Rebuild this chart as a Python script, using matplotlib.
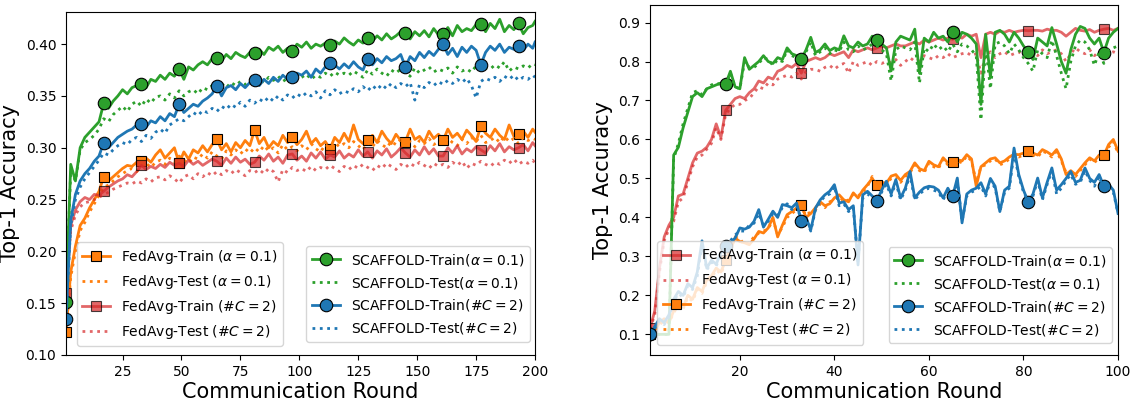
import numpy as np
import matplotlib
matplotlib.use("Agg")
import matplotlib.pyplot as plt

# ---------------- left panel (200 rounds, sampled every 2nd round) ----------------
rounds_left = list(range(1, 200, 2)) + [200]

fedavg_train_alpha_l = [
    0.122, 0.180, 0.205, 0.225, 0.232, 0.242, 0.250, 0.258, 0.272, 0.268,
    0.272, 0.276, 0.280, 0.283, 0.282, 0.286, 0.287, 0.290, 0.286, 0.293,
    0.298, 0.290, 0.295, 0.300, 0.285, 0.296, 0.289, 0.298, 0.295, 0.302,
    0.296, 0.303, 0.308, 0.298, 0.304, 0.296, 0.305, 0.300, 0.307, 0.302,
    0.317, 0.304, 0.310, 0.300, 0.306, 0.302, 0.312, 0.305, 0.310, 0.303,
    0.308, 0.316, 0.304, 0.309, 0.302, 0.306, 0.299, 0.310, 0.305, 0.314,
    0.306, 0.322, 0.308, 0.304, 0.307, 0.312, 0.305, 0.316, 0.309, 0.304,
    0.313, 0.307, 0.306, 0.318, 0.308, 0.311, 0.305, 0.316, 0.309, 0.313,
    0.307, 0.318, 0.310, 0.314, 0.308, 0.317, 0.312, 0.306, 0.321, 0.314,
    0.310, 0.318, 0.312, 0.308, 0.322, 0.311, 0.313, 0.316, 0.310, 0.318,
    0.315]
fedavg_test_alpha_l = [
    0.122, 0.175, 0.200, 0.220, 0.228, 0.238, 0.246, 0.254, 0.262, 0.264,
    0.268, 0.272, 0.275, 0.278, 0.280, 0.277, 0.282, 0.285, 0.281, 0.286,
    0.288, 0.284, 0.290, 0.286, 0.292, 0.288, 0.285, 0.291, 0.289, 0.294,
    0.290, 0.296, 0.292, 0.289, 0.297, 0.293, 0.298, 0.294, 0.299, 0.295,
    0.300, 0.296, 0.302, 0.297, 0.300, 0.295, 0.303, 0.298, 0.301, 0.297,
    0.302, 0.298, 0.304, 0.299, 0.296, 0.303, 0.300, 0.305, 0.301, 0.304,
    0.300, 0.306, 0.302, 0.298, 0.305, 0.301, 0.307, 0.303, 0.300, 0.306,
    0.303, 0.308, 0.302, 0.306, 0.301, 0.307, 0.304, 0.309, 0.303, 0.306,
    0.304, 0.309, 0.305, 0.302, 0.308, 0.304, 0.310, 0.306, 0.312, 0.305,
    0.307, 0.310, 0.305, 0.311, 0.306, 0.309, 0.304, 0.310, 0.307, 0.309,
    0.308]
fedavg_train_c2_l = [
    0.160, 0.225, 0.240, 0.248, 0.252, 0.250, 0.255, 0.254, 0.258, 0.262,
    0.265, 0.268, 0.270, 0.274, 0.272, 0.277, 0.283, 0.279, 0.282, 0.280,
    0.284, 0.281, 0.286, 0.283, 0.285, 0.282, 0.288, 0.284, 0.287, 0.283,
    0.286, 0.289, 0.287, 0.283, 0.290, 0.285, 0.291, 0.286, 0.289, 0.284,
    0.286, 0.292, 0.288, 0.294, 0.287, 0.291, 0.285, 0.293, 0.294, 0.288,
    0.292, 0.287, 0.295, 0.290, 0.296, 0.289, 0.293, 0.291, 0.297, 0.290,
    0.294, 0.291, 0.298, 0.292, 0.296, 0.290, 0.297, 0.293, 0.299, 0.291,
    0.295, 0.300, 0.295, 0.291, 0.298, 0.293, 0.301, 0.294, 0.299, 0.292,
    0.292, 0.300, 0.295, 0.302, 0.294, 0.299, 0.296, 0.301, 0.298, 0.295,
    0.302, 0.297, 0.304, 0.296, 0.301, 0.298, 0.300, 0.303, 0.297, 0.305,
    0.302]
fedavg_test_c2_l = [
    0.160, 0.220, 0.235, 0.243, 0.247, 0.248, 0.250, 0.252, 0.255, 0.257,
    0.260, 0.262, 0.264, 0.266, 0.265, 0.268, 0.266, 0.270, 0.267, 0.271,
    0.272, 0.269, 0.273, 0.270, 0.266, 0.272, 0.274, 0.270, 0.275, 0.272,
    0.276, 0.273, 0.277, 0.274, 0.278, 0.275, 0.279, 0.276, 0.273, 0.278,
    0.276, 0.279, 0.275, 0.280, 0.277, 0.267, 0.279, 0.276, 0.281, 0.278,
    0.280, 0.277, 0.282, 0.278, 0.281, 0.279, 0.283, 0.280, 0.277, 0.282,
    0.279, 0.283, 0.280, 0.284, 0.281, 0.278, 0.283, 0.280, 0.285, 0.282,
    0.279, 0.284, 0.281, 0.285, 0.282, 0.286, 0.283, 0.280, 0.285, 0.282,
    0.284, 0.281, 0.286, 0.283, 0.287, 0.280, 0.285, 0.283, 0.287, 0.284,
    0.282, 0.286, 0.284, 0.288, 0.285, 0.289, 0.284, 0.287, 0.285, 0.288,
    0.285]
scaffold_train_alpha_l = [
    0.151, 0.284, 0.268, 0.300, 0.310, 0.315, 0.320, 0.325, 0.343, 0.338,
    0.345, 0.350, 0.356, 0.352, 0.358, 0.360, 0.362, 0.358, 0.366, 0.364,
    0.370, 0.366, 0.372, 0.369, 0.376, 0.366, 0.378, 0.375, 0.380, 0.383,
    0.380, 0.386, 0.387, 0.384, 0.390, 0.386, 0.392, 0.389, 0.387, 0.392,
    0.391, 0.395, 0.390, 0.397, 0.394, 0.398, 0.392, 0.396, 0.393, 0.400,
    0.397, 0.402, 0.396, 0.400, 0.398, 0.401, 0.399, 0.403, 0.400, 0.406,
    0.402, 0.399, 0.404, 0.401, 0.406, 0.403, 0.408, 0.404, 0.410, 0.405,
    0.408, 0.412, 0.411, 0.405, 0.412, 0.408, 0.413, 0.407, 0.415, 0.409,
    0.410, 0.416, 0.408, 0.418, 0.412, 0.415, 0.413, 0.419, 0.419, 0.412,
    0.420, 0.415, 0.424, 0.412, 0.418, 0.414, 0.420, 0.410, 0.416, 0.418,
    0.422]
scaffold_test_alpha_l = [
    0.151, 0.278, 0.268, 0.298, 0.305, 0.308, 0.312, 0.318, 0.328, 0.325,
    0.332, 0.336, 0.340, 0.335, 0.342, 0.345, 0.340, 0.347, 0.343, 0.349,
    0.350, 0.346, 0.352, 0.348, 0.355, 0.350, 0.354, 0.356, 0.352, 0.358,
    0.356, 0.360, 0.357, 0.362, 0.358, 0.363, 0.360, 0.364, 0.361, 0.365,
    0.362, 0.366, 0.363, 0.368, 0.365, 0.369, 0.364, 0.367, 0.370, 0.366,
    0.368, 0.371, 0.366, 0.370, 0.368, 0.372, 0.369, 0.373, 0.370, 0.372,
    0.370, 0.374, 0.371, 0.368, 0.375, 0.371, 0.376, 0.372, 0.369, 0.375,
    0.372, 0.376, 0.373, 0.369, 0.377, 0.372, 0.375, 0.378, 0.373, 0.376,
    0.374, 0.377, 0.372, 0.378, 0.374, 0.376, 0.373, 0.379, 0.375, 0.377,
    0.376, 0.380, 0.377, 0.383, 0.374, 0.378, 0.376, 0.379, 0.377, 0.381,
    0.380]
scaffold_train_c2_l = [
    0.135, 0.230, 0.255, 0.268, 0.275, 0.280, 0.287, 0.292, 0.305, 0.300,
    0.305, 0.310, 0.313, 0.316, 0.318, 0.322, 0.323, 0.320, 0.326, 0.324,
    0.330, 0.326, 0.333, 0.330, 0.342, 0.334, 0.338, 0.342, 0.340, 0.345,
    0.348, 0.352, 0.360, 0.350, 0.358, 0.360, 0.356, 0.362, 0.358, 0.363,
    0.365, 0.360, 0.366, 0.362, 0.368, 0.364, 0.370, 0.366, 0.368, 0.372,
    0.370, 0.374, 0.368, 0.376, 0.372, 0.378, 0.382, 0.380, 0.376, 0.381,
    0.377, 0.383, 0.378, 0.375, 0.386, 0.380, 0.386, 0.382, 0.388, 0.384,
    0.386, 0.390, 0.378, 0.388, 0.384, 0.392, 0.387, 0.393, 0.389, 0.395,
    0.400, 0.390, 0.396, 0.388, 0.397, 0.392, 0.398, 0.394, 0.380, 0.392,
    0.398, 0.394, 0.400, 0.392, 0.397, 0.395, 0.398, 0.394, 0.400, 0.396,
    0.402]
scaffold_test_c2_l = [
    0.135, 0.225, 0.250, 0.262, 0.270, 0.276, 0.282, 0.288, 0.295, 0.293,
    0.298, 0.302, 0.305, 0.303, 0.308, 0.310, 0.306, 0.312, 0.309, 0.315,
    0.318, 0.314, 0.322, 0.325, 0.328, 0.326, 0.330, 0.334, 0.331, 0.336,
    0.334, 0.338, 0.335, 0.340, 0.337, 0.342, 0.339, 0.344, 0.340, 0.346,
    0.343, 0.347, 0.344, 0.349, 0.345, 0.350, 0.346, 0.351, 0.348, 0.352,
    0.349, 0.353, 0.350, 0.354, 0.348, 0.355, 0.351, 0.356, 0.352, 0.355,
    0.353, 0.357, 0.354, 0.359, 0.355, 0.360, 0.356, 0.361, 0.357, 0.362,
    0.358, 0.362, 0.359, 0.363, 0.346, 0.361, 0.358, 0.363, 0.360, 0.364,
    0.361, 0.365, 0.362, 0.366, 0.363, 0.367, 0.360, 0.348, 0.364, 0.367,
    0.365, 0.368, 0.364, 0.369, 0.366, 0.370, 0.365, 0.368, 0.366, 0.370,
    0.368]

# ---------------- right panel (100 rounds) ----------------
rounds_right = list(range(1, 101))

fedavg_train_alpha_r = [
    0.115, 0.160, 0.270, 0.350, 0.380, 0.400, 0.455, 0.460, 0.500, 0.540,
    0.565, 0.570, 0.580, 0.600, 0.640, 0.605, 0.675, 0.690, 0.705, 0.710,
    0.705, 0.720, 0.730, 0.750, 0.745, 0.760, 0.755, 0.775, 0.780, 0.790,
    0.785, 0.795, 0.770, 0.800, 0.805, 0.810, 0.805, 0.810, 0.820, 0.815,
    0.820, 0.825, 0.810, 0.830, 0.825, 0.830, 0.835, 0.830, 0.835, 0.840,
    0.835, 0.840, 0.845, 0.840, 0.840, 0.845, 0.850, 0.845, 0.855, 0.850,
    0.855, 0.860, 0.855, 0.860, 0.857, 0.865, 0.860, 0.870, 0.865, 0.870,
    0.810, 0.870, 0.875, 0.870, 0.878, 0.875, 0.880, 0.875, 0.878, 0.880,
    0.879, 0.880, 0.880, 0.878, 0.883, 0.880, 0.880, 0.875, 0.865, 0.875,
    0.885, 0.880, 0.878, 0.882, 0.875, 0.880, 0.883, 0.885, 0.880, 0.885]
fedavg_test_alpha_r = [
    0.115, 0.150, 0.260, 0.340, 0.370, 0.390, 0.440, 0.450, 0.490, 0.530,
    0.555, 0.560, 0.575, 0.590, 0.630, 0.600, 0.665, 0.680, 0.690, 0.690,
    0.700, 0.705, 0.720, 0.735, 0.730, 0.745, 0.740, 0.755, 0.760, 0.765,
    0.760, 0.770, 0.755, 0.775, 0.780, 0.780, 0.775, 0.785, 0.790, 0.780,
    0.790, 0.795, 0.770, 0.800, 0.790, 0.795, 0.800, 0.790, 0.800, 0.795,
    0.800, 0.797, 0.805, 0.790, 0.800, 0.810, 0.800, 0.805, 0.815, 0.810,
    0.805, 0.815, 0.810, 0.820, 0.810, 0.815, 0.820, 0.823, 0.815, 0.820,
    0.770, 0.815, 0.825, 0.810, 0.820, 0.825, 0.815, 0.820, 0.825, 0.815,
    0.820, 0.825, 0.815, 0.830, 0.820, 0.825, 0.830, 0.820, 0.800, 0.820,
    0.835, 0.825, 0.820, 0.830, 0.815, 0.825, 0.830, 0.820, 0.825, 0.820]
fedavg_train_c2_r = [
    0.100, 0.110, 0.130, 0.140, 0.130, 0.160, 0.180, 0.170, 0.200, 0.190,
    0.220, 0.210, 0.240, 0.250, 0.270, 0.260, 0.290, 0.320, 0.347, 0.338,
    0.335, 0.330, 0.345, 0.364, 0.360, 0.373, 0.400, 0.350, 0.380, 0.407,
    0.415, 0.424, 0.432, 0.400, 0.410, 0.425, 0.440, 0.430, 0.435, 0.450,
    0.458, 0.445, 0.440, 0.463, 0.450, 0.470, 0.484, 0.500, 0.482, 0.490,
    0.488, 0.506, 0.510, 0.495, 0.510, 0.518, 0.540, 0.525, 0.520, 0.544,
    0.535, 0.530, 0.553, 0.540, 0.542, 0.548, 0.545, 0.561, 0.550, 0.480,
    0.530, 0.540, 0.550, 0.553, 0.540, 0.545, 0.555, 0.562, 0.561, 0.565,
    0.570, 0.565, 0.560, 0.574, 0.568, 0.560, 0.574, 0.550, 0.510, 0.520,
    0.510, 0.525, 0.540, 0.553, 0.545, 0.560, 0.559, 0.587, 0.600, 0.570]
fedavg_test_c2_r = [
    0.100, 0.110, 0.125, 0.135, 0.130, 0.155, 0.175, 0.165, 0.195, 0.185,
    0.215, 0.205, 0.235, 0.245, 0.265, 0.255, 0.285, 0.315, 0.350, 0.345,
    0.330, 0.335, 0.350, 0.360, 0.365, 0.370, 0.395, 0.355, 0.375, 0.400,
    0.410, 0.420, 0.425, 0.405, 0.415, 0.420, 0.435, 0.425, 0.440, 0.445,
    0.455, 0.440, 0.445, 0.460, 0.455, 0.465, 0.480, 0.505, 0.478, 0.485,
    0.485, 0.500, 0.505, 0.490, 0.505, 0.515, 0.535, 0.520, 0.515, 0.540,
    0.530, 0.525, 0.550, 0.535, 0.538, 0.545, 0.540, 0.558, 0.545, 0.490,
    0.530, 0.535, 0.545, 0.550, 0.535, 0.540, 0.550, 0.560, 0.555, 0.560,
    0.565, 0.560, 0.555, 0.570, 0.565, 0.555, 0.570, 0.545, 0.515, 0.515,
    0.505, 0.520, 0.535, 0.550, 0.540, 0.555, 0.555, 0.580, 0.595, 0.565]
scaffold_train_alpha_r = [
    0.100, 0.100, 0.100, 0.100, 0.100, 0.560, 0.580, 0.630, 0.670, 0.710,
    0.720, 0.710, 0.730, 0.735, 0.740, 0.745, 0.742, 0.775, 0.735, 0.730,
    0.810, 0.780, 0.790, 0.800, 0.815, 0.800, 0.795, 0.810, 0.805, 0.835,
    0.820, 0.815, 0.806, 0.830, 0.862, 0.823, 0.830, 0.845, 0.828, 0.835,
    0.830, 0.866, 0.840, 0.835, 0.850, 0.840, 0.845, 0.865, 0.856, 0.845,
    0.835, 0.776, 0.850, 0.865, 0.860, 0.855, 0.883, 0.770, 0.860, 0.850,
    0.875, 0.860, 0.865, 0.850, 0.876, 0.850, 0.875, 0.870, 0.860, 0.845,
    0.690, 0.870, 0.760, 0.875, 0.880, 0.870, 0.850, 0.875, 0.860, 0.840,
    0.825, 0.805, 0.860, 0.850, 0.840, 0.887, 0.845, 0.800, 0.770, 0.830,
    0.870, 0.890, 0.885, 0.860, 0.845, 0.860, 0.823, 0.860, 0.875, 0.885]
scaffold_test_alpha_r = [
    0.100, 0.100, 0.100, 0.100, 0.100, 0.550, 0.590, 0.640, 0.680, 0.720,
    0.725, 0.715, 0.730, 0.740, 0.745, 0.740, 0.740, 0.770, 0.735, 0.730,
    0.800, 0.785, 0.785, 0.795, 0.810, 0.805, 0.790, 0.805, 0.800, 0.830,
    0.815, 0.810, 0.800, 0.825, 0.850, 0.815, 0.825, 0.835, 0.820, 0.830,
    0.825, 0.850, 0.830, 0.825, 0.840, 0.830, 0.835, 0.845, 0.840, 0.830,
    0.820, 0.750, 0.830, 0.840, 0.835, 0.830, 0.850, 0.745, 0.835, 0.825,
    0.845, 0.830, 0.840, 0.825, 0.845, 0.825, 0.845, 0.840, 0.830, 0.815,
    0.650, 0.840, 0.730, 0.845, 0.850, 0.840, 0.820, 0.845, 0.830, 0.810,
    0.795, 0.775, 0.830, 0.820, 0.810, 0.855, 0.815, 0.770, 0.730, 0.800,
    0.840, 0.855, 0.850, 0.830, 0.790, 0.825, 0.795, 0.830, 0.835, 0.840]
scaffold_train_c2_r = [
    0.100, 0.120, 0.140, 0.130, 0.150, 0.190, 0.210, 0.200, 0.230, 0.220,
    0.260, 0.340, 0.270, 0.290, 0.280, 0.310, 0.327, 0.335, 0.347, 0.373,
    0.370, 0.375, 0.390, 0.420, 0.375, 0.395, 0.416, 0.400, 0.433, 0.430,
    0.425, 0.437, 0.390, 0.400, 0.368, 0.424, 0.445, 0.458, 0.467, 0.484,
    0.437, 0.440, 0.420, 0.430, 0.278, 0.458, 0.467, 0.455, 0.443, 0.470,
    0.493, 0.460, 0.497, 0.450, 0.475, 0.518, 0.450, 0.465, 0.476, 0.480,
    0.478, 0.470, 0.450, 0.475, 0.454, 0.501, 0.386, 0.460, 0.470, 0.475,
    0.489, 0.460, 0.500, 0.480, 0.415, 0.470, 0.480, 0.578, 0.510, 0.470,
    0.440, 0.460, 0.501, 0.450, 0.490, 0.527, 0.470, 0.484, 0.500, 0.518,
    0.490, 0.495, 0.527, 0.500, 0.490, 0.510, 0.480, 0.485, 0.470, 0.410]
scaffold_test_c2_r = [
    0.100, 0.115, 0.135, 0.125, 0.145, 0.185, 0.205, 0.195, 0.225, 0.215,
    0.250, 0.330, 0.265, 0.285, 0.275, 0.305, 0.320, 0.340, 0.355, 0.365,
    0.365, 0.380, 0.385, 0.410, 0.380, 0.390, 0.410, 0.405, 0.425, 0.435,
    0.420, 0.430, 0.395, 0.395, 0.365, 0.420, 0.440, 0.455, 0.460, 0.480,
    0.430, 0.435, 0.415, 0.425, 0.285, 0.450, 0.460, 0.450, 0.440, 0.465,
    0.485, 0.455, 0.490, 0.445, 0.470, 0.510, 0.445, 0.460, 0.470, 0.475,
    0.470, 0.465, 0.445, 0.470, 0.450, 0.495, 0.390, 0.455, 0.465, 0.470,
    0.480, 0.455, 0.495, 0.475, 0.415, 0.465, 0.475, 0.565, 0.505, 0.465,
    0.440, 0.455, 0.495, 0.445, 0.485, 0.520, 0.460, 0.475, 0.495, 0.510,
    0.485, 0.490, 0.520, 0.495, 0.480, 0.505, 0.470, 0.475, 0.465, 0.410]

ORANGE = 'tab:orange'
RED = 'tab:red'
GREEN = 'tab:green'
BLUE = 'tab:blue'

lbl_fa_tr_a = r'FedAvg-Train ($\alpha=0.1$)'
lbl_fa_te_a = r'FedAvg-Test ($\alpha=0.1$)'
lbl_fa_tr_c = r'FedAvg-Train (#$C=2$)'
lbl_fa_te_c = r'FedAvg-Test (#$C=2$)'
lbl_sc_tr_a = r'SCAFFOLD-Train($\alpha=0.1$)'
lbl_sc_te_a = r'SCAFFOLD-Test($\alpha=0.1$)'
lbl_sc_tr_c = r'SCAFFOLD-Train(#$C=2$)'
lbl_sc_te_c = r'SCAFFOLD-Test(#$C=2$)'


def draw_pair(ax, x, train, test, color, marker, ms, every, alpha, label_tr, label_te):
    tr, = ax.plot(x, train, '-', color=color, lw=2, alpha=alpha, marker=marker,
                  markersize=ms, markeredgecolor='black', markeredgewidth=0.8,
                  markevery=every, label=label_tr)
    te, = ax.plot(x, test, ':', color=color, lw=2, alpha=alpha, label=label_te)
    return tr, te


fig = plt.figure(figsize=(11.36, 4.0), dpi=100)
ax1 = fig.add_axes([0.0581, 0.1125, 0.4129, 0.8575])
ax2 = fig.add_axes([0.5722, 0.1125, 0.412, 0.875])

# left panel: orange = alpha, red = #C
h1 = draw_pair(ax1, rounds_left, fedavg_train_alpha_l, fedavg_test_alpha_l, ORANGE, 's', 7, 8, 1.0,
               lbl_fa_tr_a, lbl_fa_te_a)
h2 = draw_pair(ax1, rounds_left, fedavg_train_c2_l, fedavg_test_c2_l, RED, 's', 7, 8, 0.7,
               lbl_fa_tr_c, lbl_fa_te_c)
h3 = draw_pair(ax1, rounds_left, scaffold_train_alpha_l, scaffold_test_alpha_l, GREEN, 'o', 9, 8, 1.0,
               lbl_sc_tr_a, lbl_sc_te_a)
h4 = draw_pair(ax1, rounds_left, scaffold_train_c2_l, scaffold_test_c2_l, BLUE, 'o', 9, 8, 1.0,
               lbl_sc_tr_c, lbl_sc_te_c)
ax1.set_xlim(1, 200)
ax1.set_ylim(0.10, 0.431)
ax1.set_xticks([25, 50, 75, 100, 125, 150, 175, 200])
leg = ax1.legend(handles=[*h1, *h2], loc='lower left', bbox_to_anchor=(0.023, 0.026),
                 borderaxespad=0, fontsize=10)
ax1.add_artist(leg)
ax1.legend(handles=[*h3, *h4], loc='lower right', bbox_to_anchor=(0.989, 0.038),
           borderaxespad=0, fontsize=10)

# right panel: red = alpha, orange = #C
g1 = draw_pair(ax2, rounds_right, fedavg_train_alpha_r, fedavg_test_alpha_r, RED, 's', 7, 16, 0.7,
               lbl_fa_tr_a, lbl_fa_te_a)
g2 = draw_pair(ax2, rounds_right, fedavg_train_c2_r, fedavg_test_c2_r, ORANGE, 's', 7, 16, 1.0,
               lbl_fa_tr_c, lbl_fa_te_c)
g3 = draw_pair(ax2, rounds_right, scaffold_train_alpha_r, scaffold_test_alpha_r, GREEN, 'o', 9, 16, 1.0,
               lbl_sc_tr_a, lbl_sc_te_a)
g4 = draw_pair(ax2, rounds_right, scaffold_train_c2_r, scaffold_test_c2_r, BLUE, 'o', 9, 16, 1.0,
               lbl_sc_tr_c, lbl_sc_te_c)
ax2.set_xlim(1, 100)
ax2.set_ylim(0.047, 0.945)
ax2.set_xticks([20, 40, 60, 80, 100])
ax2.set_yticks([0.1, 0.2, 0.3, 0.4, 0.5, 0.6, 0.7, 0.8, 0.9])
leg2 = ax2.legend(handles=[*g1, *g2], loc='lower left', bbox_to_anchor=(0.015, 0.029),
                  borderaxespad=0, fontsize=10)
ax2.add_artist(leg2)
ax2.legend(handles=[*g3, *g4], loc='lower right', bbox_to_anchor=(0.987, 0.034),
           borderaxespad=0, fontsize=10)

for ax in (ax1, ax2):
    ax.set_xlabel('Communication Round', fontsize=15, labelpad=2)
    ax.set_ylabel('Top-1 Accuracy', fontsize=15)
    ax.tick_params(labelsize=10)

fig.savefig('out.png', dpi=100)
